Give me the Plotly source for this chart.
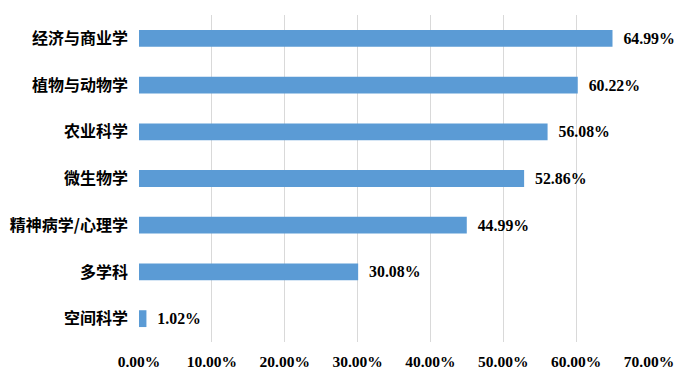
import plotly.graph_objects as go

categories = ["经济与商业学", "植物与动物学", "农业科学", "微生物学", "精神病学/心理学", "多学科", "空间科学"]
values = [64.99, 60.22, 56.08, 52.86, 44.99, 30.08, 1.02]
tick_vals = [0, 10, 20, 30, 40, 50, 60, 70]
tick_text = [f"{v:.2f}%" for v in tick_vals]

fig = go.Figure(go.Bar(
    y=categories,
    x=values,
    orientation="h",
    marker=dict(color="#5B9BD5", line=dict(width=0)),
    width=0.36,
    text=["\u00a0\u00a0" + f"{v:.2f}%" for v in values],
    textposition="outside",
    cliponaxis=False,
    textfont=dict(family="Liberation Serif", size=16, color="#000000", weight="bold"),
))

# page body has an 8px default margin; compensate so the plot lands where the reference has it
fig.update_layout(
    width=674, height=375,
    margin=dict(l=131, r=33, t=7, b=41),
    paper_bgcolor="white", plot_bgcolor="white",
    showlegend=False,
    xaxis=dict(
        range=[0, 70],
        tickvals=tick_vals, ticktext=tick_text,
        showgrid=True, gridcolor="#D9D9D9", gridwidth=1,
        zeroline=False, showline=False, ticks="",
        tickfont=dict(family="Liberation Serif", size=15.5, color="#000000", weight="bold"),
        ticklabelstandoff=8,
        automargin=False,
    ),
    yaxis=dict(
        autorange="reversed",
        showgrid=False, zeroline=False, showline=False, ticks="",
        tickfont=dict(family="Noto Sans CJK SC", size=16, color="#000000", weight="bold"),
        ticklabelstandoff=10,
        automargin=False,
    ),
)

fig.write_html("out.html")
